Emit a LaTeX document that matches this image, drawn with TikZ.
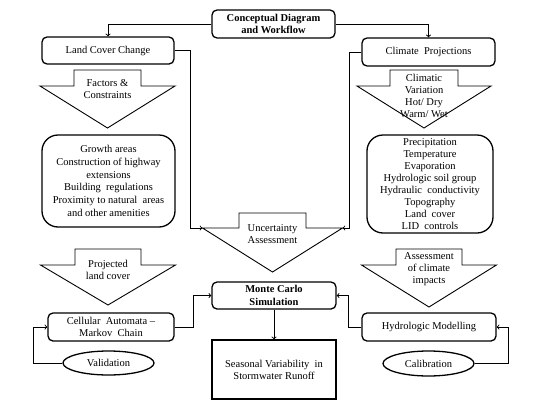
\documentclass[tikz,border=0pt]{standalone}
\usepackage{fontspec}
\setmainfont{Liberation Serif}
\usetikzlibrary{calc,shapes.geometric}
\newcommand{\makeblockarrow}[7]{
	\draw[blockarrow] (#2-#4,#3) -- (#2+#4,#3) -- (#2+#4,#5) -- (#2+#6,#5)
		-- (#2,#7) -- (#2-#6,#5) -- (#2-#4,#5) -- cycle;
	\coordinate (#1-left) at (#2-#6,#5);
	\coordinate (#1-right) at (#2+#6,#5);
}

\begin{document}
\begin{tikzpicture}[x=1pt,y=-1pt,
	box/.style={draw, line width=1.3pt, rounded corners=5pt, align=center, inner sep=0pt,
		font=\fontsize{10.5}{12}\selectfont},
	bigbox/.style={box, rounded corners=16pt},
	oval/.style={draw, ellipse, line width=1.3pt, inner sep=0pt, font=\fontsize{10.5}{12}\selectfont},
	blockarrow/.style={line width=0.9pt},
	label/.style={align=center, inner sep=0pt, font=\fontsize{10.5}{12}\selectfont},
	link/.style={line width=0.9pt, ->}]
	\useasboundingbox (0,0) rectangle (550,413);

	\node[box, font=\fontsize{10.5}{12.5}\selectfont\bfseries, minimum width=123pt, minimum height=28pt] (title) at (273.5,24) {Conceptual Diagram\\and Workflow};
	\node[box, minimum width=132pt, minimum height=27pt] (landcover) at (108,50.5) {Land Cover Change};
	\node[box, minimum width=133pt, minimum height=28pt] (climate) at (428.5,52) {Climate\ \ Projections};

	\makeblockarrow{factors}{107.5}{70}{33.5}{86}{67.5}{128}
	\makeblockarrow{variation}{424}{70}{34}{86}{67}{128}
	\makeblockarrow{uncert}{272.5}{213}{33.5}{228}{70}{272}
	\makeblockarrow{projected}{108}{249}{33}{265}{67.5}{305}
	\makeblockarrow{impacts}{429}{249}{33}{265}{67.5}{307}

	\node[label] (factorstext) at (107.5,89) {Factors \&\\Constraints};
	\node[label] (variationtext) at (424,96) {Climatic\\Variation\\Hot/ Dry\\Warm/ Wet};
	\node[label] (uncerttext) at (272.5,234) {Uncertainty\\Assessment};
	\node[label] (projectedtext) at (108,270) {Projected\\land cover};
	\node[label] (impactstext) at (429,269) {Assessment\\of climate\\impacts};

	\node[bigbox, font=\fontsize{10.5}{12.8}\selectfont, minimum width=133pt, minimum height=92pt] (drivers) at (108.5,181)
		{Growth areas\\Construction of highway\\extensions\\Building\ \ regulations\\Proximity to natural\ \ areas\\and other amenities};
	\node[bigbox, minimum width=126pt, minimum height=98pt] (inputs) at (430,184)
		{Precipitation\\Temperature\\Evaporation\\Hydrologic soil group\\Hydraulic\ \ conductivity\\Topography\\Land\ \ cover\\LID\ \ controls};

	\node[box, font=\fontsize{10.5}{12.5}\selectfont\bfseries, minimum width=124pt, minimum height=27pt] (montecarlo) at (274,295.5) {Monte Carlo\\Simulation};
	\node[box, rounded corners=0pt, minimum width=124pt, minimum height=59pt] (seasonal) at (274,369.5) {Seasonal Variability\ \ in\\Stormwater Runoff};
	\node[box, minimum width=126pt, minimum height=28pt] (cellular) at (111,327) {Cellular\ \ Automata --\\Markov\ \ Chain};
	\node[box, minimum width=134pt, minimum height=28pt] (hydro) at (429,327) {Hydrologic Modelling};
	\node[oval, minimum width=91pt, minimum height=24pt] (validation) at (108.5,363) {Validation};
	\node[oval, minimum width=91pt, minimum height=25pt] (calibration) at (428.5,363.5) {Calibration};

	\draw[link] (title.west) -| (landcover.north);
	\draw[link] (title.east) -| (climate.north);
	\draw[link] (landcover.east) -- ++(16,0) |- (uncert-left);
	\draw[link] (climate.west) -- ++(-12,0) |- (uncert-right);
	\draw[link] (cellular.east) -- ++(19,0) |- (montecarlo.west);
	\draw[link] (hydro.west) -- ++(-13,0) |- (montecarlo.east);
	\draw[link] (montecarlo.south) -- (seasonal.north);
	\draw[link] (validation.west) -- ++(-29,0) |- (cellular.west);
	\draw[link] (calibration.east) -- ++(34,0) |- (hydro.east);
\end{tikzpicture}
\end{document}
